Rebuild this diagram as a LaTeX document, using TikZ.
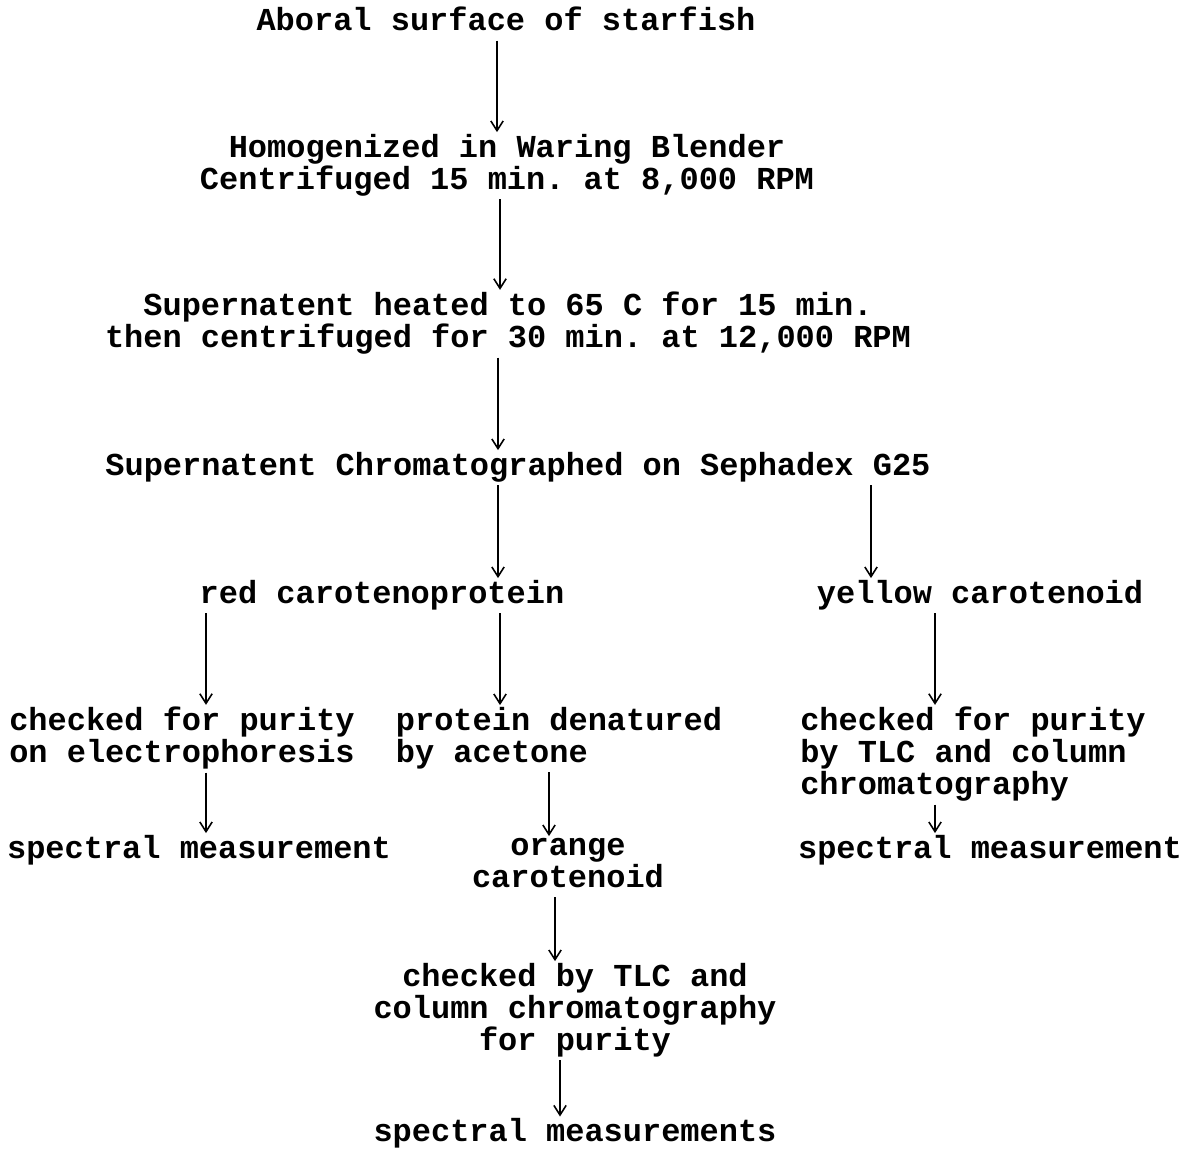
\documentclass[tikz,border=0pt]{standalone}
\usepackage{fontspec}
\newfontfamily\typewriter{Liberation Mono}
\usetikzlibrary{arrows.meta}
\usetikzlibrary{calc}
\tikzstyle{stage}=[font=\typewriter\bfseries\frenchspacing\fontsize{18.2}{18.2}\selectfont,inner sep=0pt,execute at begin node=\strut,execute at end node=\strut]
\tikzstyle{centerstage}=[stage,align=center]
\tikzstyle{leftstage}=[stage,align=left]
\tikzstyle{flow} = [draw,line width=0.9pt,-{Straight Barb[length=5.5pt,width=7pt]},shorten >=1pt]

\begin{document}
\begin{tikzpicture}[x=0.02cm,y=0.02cm]
    \useasboundingbox (0,0) rectangle (1198,-1149);

    % Scheme for the starfish pigments
    % First we draw the steps
    \foreach \pos/\name/\label in {{(506,-23.6)/S/{Aboral surface of starfish}},
        {(507,-166.6)/H/{Homogenized in Waring Blender\\Centrifuged 15 min. at 8,000 RPM}},
        {(508,-324.6)/C/{Supernatent heated to 65 C for 15 min.\\then centrifuged for 30 min. at 12,000 RPM}},
        {(518,-468.6)/G/{Supernatent Chromatographed on Sephadex G25}},
        {(382,-596.6)/R/{red carotenoprotein}},
        {(980,-596.6)/Y/{yellow carotenoid}},
        {(568,-867.6)/O/{orange\\carotenoid}},
        {(575,-1011.6)/T/{checked by TLC and\\column chromatography\\for purity}},
        {(575,-1135)/M/{spectral measurements}}}
        \node[centerstage] (\name) at \pos {\label};

    % the left aligned ones
    \foreach \pos/\name/\label in {{(182,-739.6)/E/{checked for purity\\on electrophoresis}},
        {(559,-739.6)/D/{protein denatured\\by acetone}},
        {(973,-755.6)/P/{checked for purity\\by TLC and column\\chromatography}},
        {(199,-851.6)/ER/{spectral measurement}},
        {(990,-851.6)/PY/{spectral measurement}}}
        \node[leftstage] (\name) at \pos {\label};

    % Connect the steps with arrows
    \foreach \source/\dest/\xpos in {S/H/497, H/C/500, C/G/498, G/R/498, G/Y/871,
        R/E/206, R/D/500, Y/P/935, E/ER/206, D/O/549, P/PY/935, O/T/555, T/M/560}
        \path[flow] (\xpos,0 |- \source.south) -- (\xpos,0 |- \dest.north);

\end{tikzpicture}
\end{document}
